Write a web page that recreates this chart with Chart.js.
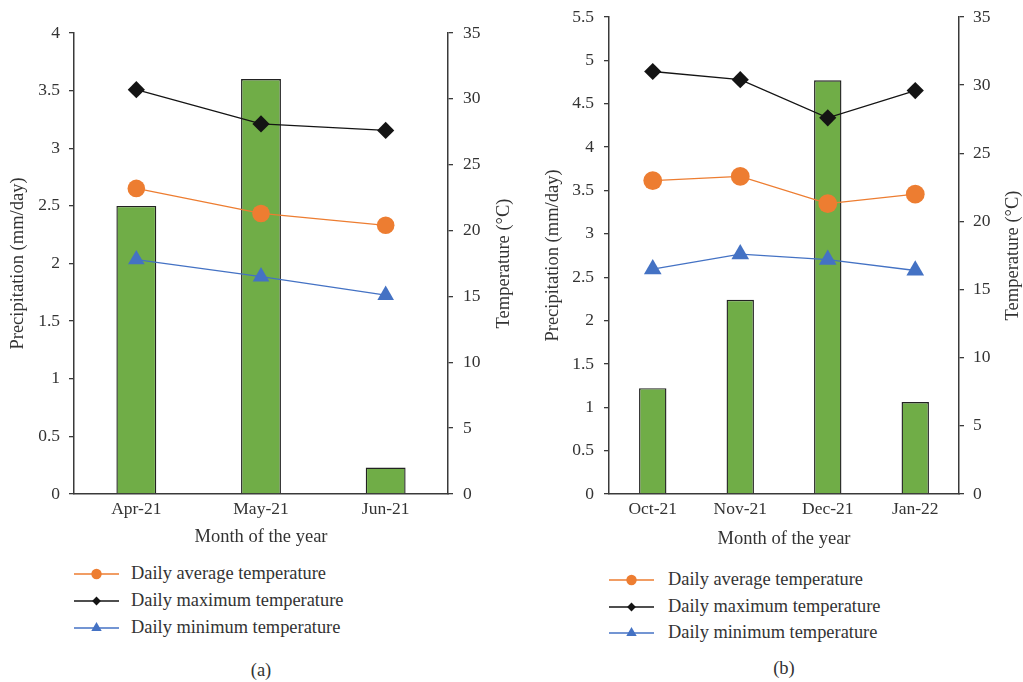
<!DOCTYPE html>
<html>
<head>
<meta charset="utf-8">
<script src="https://cdn.jsdelivr.net/npm/chart.js@4.4.1/dist/chart.umd.min.js"></script>
<style>
  html, body { margin: 0; padding: 0; background: #fff; }
  #wrap { position: relative; width: 1023px; height: 682px; overflow: hidden; background: #fff; }
  canvas.chart { position: absolute; top: 0; }
  .leg { position: absolute; height: 22px; white-space: nowrap; }
  .leg canvas { position: absolute; left: 0; top: 0; }
  .leg span { position: absolute; top: 0; line-height: 22px; font: 18.4px "Liberation Serif", serif; color: #333; }
  .cap { position: absolute; width: 100px; text-align: center; font: 18.5px "Liberation Serif", serif; color: #333; line-height: 22px; }
</style>
</head>
<body>
<div id="wrap">
  <canvas id="chartA" class="chart" width="520" height="550" style="left:0px"></canvas>
  <canvas id="chartB" class="chart" width="503" height="550" style="left:520px"></canvas>
  <div id="legendA"></div>
  <div id="legendB"></div>
  <div class="cap" style="left:211px; top:659px;">(a)</div>
  <div class="cap" style="left:734px; top:657px;">(b)</div>
</div>
<script>
// ---------- data ----------
const monthsA = ['Apr-21', 'May-21', 'Jun-21'];
const precipA = [2.5, 3.6, 0.23];
const tAvgA = [23.2, 21.3, 20.4];
const tMaxA = [30.7, 28.1, 27.6];
const tMinA = [17.8, 16.5, 15.1];

const monthsB = ['Oct-21', 'Nov-21', 'Dec-21', 'Jan-22'];
const precipB = [1.22, 2.24, 4.77, 1.06];
const tAvgB = [23.0, 23.3, 21.3, 22.0];
const tMaxB = [31.0, 30.4, 27.6, 29.6];
const tMinB = [16.5, 17.6, 17.2, 16.4];

const seriesNames = ['Daily average temperature', 'Daily maximum temperature', 'Daily minimum temperature'];
const precipLabel = 'Precipitation (mm/day)';
const tempLabel = 'Temperature (°C)';
const xLabel = 'Month of the year';

// ---------- styles ----------
const FONT = '"Liberation Serif", "Times New Roman", serif';
const TEXT = '#333333';
const AXIS = '#3a3a3a';
const GREEN = '#70AD47';
const ORANGE = '#ED7D31';
const BLACK = '#141414';
const BLUE = '#4472C4';

const lineStyles = [
  { color: ORANGE, pointStyle: 'circle', legendRadius: 5.2 },
  { color: BLACK, pointStyle: 'rectRot', legendRadius: 4.4 },
  { color: BLUE, pointStyle: 'triangle', legendRadius: 6 }
];

const rightTitlePlugin = {
  id: 'rightTitle',
  afterDraw(chart, args, opts) {
    const ctx = chart.ctx;
    const ca = chart.chartArea;
    ctx.save();
    ctx.translate(opts.x, (ca.top + ca.bottom) / 2);
    ctx.rotate(-Math.PI / 2);
    ctx.textAlign = 'center';
    ctx.textBaseline = 'middle';
    ctx.font = '18.5px ' + FONT;
    ctx.fillStyle = TEXT;
    ctx.fillText(opts.text, 0, 0);
    ctx.restore();
  }
};

const plainNum = v => String(Math.round(v * 100) / 100);

function build(canvasId, g) {
  const lineData = [g.avg, g.max, g.min];
  const datasets = lineData.map((d, i) => ({
    type: 'line',
    label: seriesNames[i],
    data: d,
    yAxisID: 'y1',
    borderColor: lineStyles[i].color,
    backgroundColor: lineStyles[i].color,
    borderWidth: 1.3,
    pointStyle: lineStyles[i].pointStyle,
    pointRadius: g.radii[i],
    pointBackgroundColor: lineStyles[i].color,
    pointBorderColor: lineStyles[i].color,
    pointBorderWidth: 0,
    tension: 0,
    order: i
  }));
  datasets.push({
    type: 'bar',
    label: 'Precipitation',
    data: g.precip,
    yAxisID: 'y',
    backgroundColor: GREEN,
    borderColor: '#222222',
    borderWidth: 1.4,
    barPercentage: g.barPct,
    categoryPercentage: 1,
    order: 10
  });

  const tickFont = { family: FONT, size: 17.5 };
  const titleFont = { family: FONT, size: 18.5 };
  const yGrid = { display: true, drawOnChartArea: false, drawTicks: true, tickLength: 5, color: AXIS, lineWidth: 1.3 };
  const border = { display: true, color: AXIS, width: 1.5 };
  const noVPad = s => { s.paddingTop = 0; s.paddingBottom = 0; };

  return new Chart(document.getElementById(canvasId), {
    data: { labels: g.labels, datasets },
    plugins: [rightTitlePlugin],
    options: {
      responsive: false,
      devicePixelRatio: 1,
      animation: false,
      layout: { padding: { top: g.top, left: 0, right: 0, bottom: 0 } },
      plugins: {
        legend: { display: false },
        tooltip: { enabled: false },
        rightTitle: { x: g.rightTitleX, text: tempLabel }
      },
      scales: {
        x: {
          type: 'category',
          offset: true,
          grid: { display: false, drawTicks: false },
          border: border,
          ticks: { font: tickFont, color: TEXT, padding: 5, maxRotation: 0 },
          title: { display: true, text: xLabel, font: titleFont, color: TEXT, padding: { top: 0, bottom: g.xTitlePad } },
          afterFit: s => { s.height = 56; }
        },
        y: {
          position: 'left',
          min: 0,
          max: g.yMax,
          ticks: { stepSize: 0.5, font: tickFont, color: TEXT, padding: g.leftPad, callback: plainNum },
          grid: yGrid,
          border: border,
          title: { display: true, text: precipLabel, font: titleFont, color: TEXT, padding: { top: g.leftTitlePad, bottom: 0 } },
          afterFit: s => { s.width = g.leftW; noVPad(s); }
        },
        y1: {
          position: 'right',
          min: 0,
          max: 35,
          ticks: { stepSize: 5, font: tickFont, color: TEXT, padding: g.rightPad, callback: plainNum },
          grid: yGrid,
          border: border,
          title: { display: false },
          afterFit: s => { s.width = g.rightW; noVPad(s); }
        }
      }
    }
  });
}

build('chartA', {
  labels: monthsA, precip: precipA, avg: tAvgA, max: tMaxA, min: tMinA,
  yMax: 4, barPct: 0.32, top: 33, leftW: 74, rightW: 72, radii: [8.8, 8.6, 9.6],
  leftPad: 9, rightPad: 10, leftTitlePad: 7.5, xTitlePad: 2, rightTitleX: 504
});
build('chartB', {
  labels: monthsB, precip: precipB, avg: tAvgB, max: tMaxB, min: tMinB,
  yMax: 5.5, barPct: 0.313, top: 17, leftW: 89, rightW: 64, radii: [9.4, 8.6, 10.2],
  leftPad: 10, rightPad: 9, leftTitlePad: 22, xTitlePad: 0, rightTitleX: 493
});

// ---------- legends ----------
function makeLegend(containerId, iconLeft, textLeft, rows) {
  const cont = document.getElementById(containerId);
  rows.forEach((cy, i) => {
    const st = lineStyles[i];
    const item = document.createElement('div');
    item.className = 'leg';
    item.style.left = iconLeft + 'px';
    item.style.top = (cy - 11) + 'px';
    const cv = document.createElement('canvas');
    cv.width = 46; cv.height = 22;
    item.appendChild(cv);
    const ctx = cv.getContext('2d');
    ctx.strokeStyle = st.color;
    ctx.lineWidth = 1.3;
    ctx.beginPath();
    ctx.moveTo(0, 11);
    ctx.lineTo(45, 11);
    ctx.stroke();
    ctx.fillStyle = st.color;
    Chart.helpers.drawPoint(ctx, { pointStyle: st.pointStyle, rotation: 0, radius: st.legendRadius, borderWidth: 0 }, 22.5, 11);
    const sp = document.createElement('span');
    sp.textContent = seriesNames[i];
    sp.style.left = (textLeft - iconLeft) + 'px';
    item.appendChild(sp);
    cont.appendChild(item);
  });
}
makeLegend('legendA', 74, 131, [574, 601, 628]);
makeLegend('legendB', 609, 668, [580, 607, 633]);
</script>
</body>
</html>
